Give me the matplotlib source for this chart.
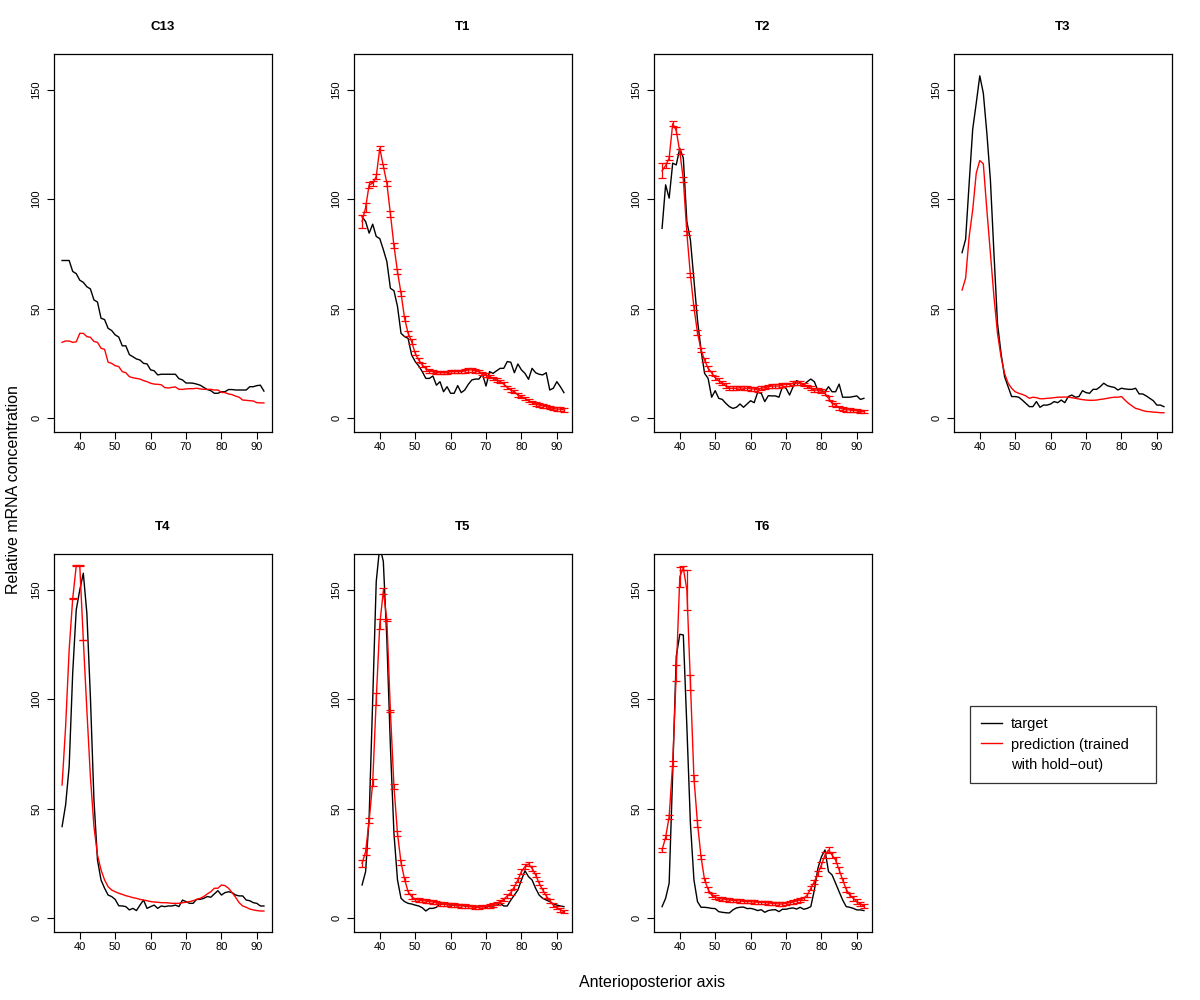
import numpy as np
import matplotlib
matplotlib.use("Agg")
import matplotlib.pyplot as plt
from matplotlib.lines import Line2D

plt.rcParams['font.family'] = ['Liberation Sans', 'DejaVu Sans']

# positions along the anterioposterior axis
x = list(range(35, 93))

panel_names = ["C13", "T1", "T2", "T3", "T4", "T5", "T6"]

c13_target = [72, 72, 72, 67, 66, 63, 62, 60, 59, 54,
              53, 45.6, 45, 41, 40, 38, 37, 33, 33, 29,
              28, 27, 26.5, 25, 24.7, 22, 21.6, 19.7, 20, 20,
              20, 20, 20, 18, 17.4, 16, 16, 15.9, 15.5, 15,
              14, 13, 12.5, 11.3, 11.3, 12, 12, 13, 13, 12.8,
              12.8, 12.8, 12.8, 14.3, 14.3, 14.8, 15, 12.3]
c13_pred = [34.6, 35.2, 35.2, 34.6, 34.8, 38.7, 38.7, 37.2, 36.9, 35,
            34.6, 31.9, 31.4, 25.5, 25, 23.9, 23.5, 21.2, 20.7, 18.9,
            18.4, 18.1, 17.8, 17.1, 16.6, 15.9, 15.5, 15.4, 15.2, 13.9,
            13.7, 14, 14.2, 13.1, 13.1, 13.3, 13.4, 13.4, 13.6, 13.3,
            13.1, 13.1, 13.1, 12.8, 12.8, 11.7, 11.6, 11, 10.7, 10,
            9.5, 8.2, 8.1, 7.9, 7.8, 7, 6.9, 6.9]

t1_target = [92, 89.8, 84.5, 88.6, 83, 82, 77, 71.5, 59.3, 58.2,
             51, 38.7, 37.2, 36.4, 28.8, 25.8, 23.8, 21.2, 18.1, 18.1,
             19.2, 15, 16.6, 12, 14.3, 11.3, 11.3, 14.8, 11.6, 12.8,
             15.4, 17.4, 17.8, 17.8, 20, 14.6, 21.2, 20.4, 21.6, 22.7,
             22.7, 25.8, 25.5, 20.7, 24.7, 22, 20.4, 17.7, 22.7, 20.7,
             20, 19.7, 20.7, 12.8, 13.6, 16.6, 14.3, 11.6]
t1_pred = [89.8, 96.2, 106.6, 107.3, 110.4, 123.3, 115.2, 107.3, 93.3, 78.8,
           66.9, 57, 45.6, 38.7, 34.9, 29.6, 26.5, 24.2, 22.7, 21.5,
           21.2, 20.7, 20.7, 20.7, 20.7, 21.2, 21.2, 21.2, 21.2, 21.5,
           22, 22, 21.5, 21.2, 20.4, 19.7, 18.9, 18.1, 17.4, 16.6,
           15.5, 14, 12.8, 12, 10.5, 9.8, 9, 7.9, 7, 6.4,
           5.9, 5.5, 5.2, 4.7, 4.4, 4.1, 4, 3.7]
t1_err = [3, 2, 1.5, 1.2, 1, 1, 1, 1.2, 1.2, 1.2,
          1.2, 1.2, 1.2, 1, 1, 1, 1, 1, 1, 1,
          0.8, 0.8, 0.8, 0.8, 0.8, 0.8, 0.8, 0.8, 0.8, 0.8,
          0.8, 0.8, 0.8, 0.8, 0.8, 0.8, 0.8, 0.8, 0.8, 0.8,
          0.8, 0.8, 0.8, 0.8, 0.8, 0.8, 0.8, 0.8, 0.8, 0.8,
          0.8, 0.8, 0.8, 0.8, 0.8, 0.8, 0.8, 0.8]

t2_target = [86.7, 106.6, 100.5, 116.5, 115.7, 123.3, 118.8, 89.8, 81.4, 63.1,
             44.8, 31.1, 20.4, 18.1, 9.5, 12.5, 9, 8.5, 6.7, 5.2,
             4.4, 4.9, 6.4, 4.9, 6.4, 7.9, 7, 11.7, 11.3, 7.5,
             10.2, 10.1, 10.1, 9.5, 14.3, 13.6, 10.5, 14.3, 17.1, 16.2,
             15.1, 16.6, 17.8, 16.6, 12.5, 12.5, 12, 14.3, 12, 12,
             15.5, 9.5, 9.5, 9.5, 9.8, 10.1, 8.5, 9]
t2_pred = [113, 115.4, 118.8, 134.5, 131.4, 121.8, 109.1, 84.5, 65.4, 50.5,
           39, 31.1, 26.5, 22.7, 20.7, 18.4, 17.1, 15.9, 14.8, 13.6,
           13.6, 13.6, 13.9, 13.6, 13.6, 13.3, 13.3, 12.8, 13.6, 13.9,
           14.3, 14.6, 14.6, 14.6, 15.1, 15.4, 15.4, 15.9, 15.9, 15.9,
           15.4, 14.3, 13.6, 12.8, 12.8, 12.3, 11.3, 9, 6.7, 5.9,
           4.7, 4.1, 3.7, 3.7, 3.4, 3.4, 2.9, 2.9]
t2_err = [3.4, 1.2, 1, 1.2, 1.7, 1, 1, 1, 1, 1,
          1, 1, 1, 1, 1, 1, 1, 1, 1, 1,
          0.8, 0.8, 0.8, 0.8, 0.8, 0.8, 0.8, 0.8, 0.8, 0.8,
          0.8, 0.8, 0.8, 0.8, 0.8, 0.8, 0.8, 0.8, 0.8, 0.8,
          0.8, 0.8, 0.8, 0.8, 1, 1, 1, 1, 1, 1,
          1, 0.8, 0.8, 0.8, 0.8, 0.8, 0.8, 0.8]

t3_target = [75.6, 81.7, 107.3, 132, 143.9, 156.4, 148.5, 130.2, 108.8, 75.3,
             43.3, 29.6, 18.9, 14.3, 9.8, 9.8, 9.5, 8.2, 6.7, 5.2,
             5.2, 7.5, 4.9, 5.9, 5.9, 6.4, 7.5, 7, 8.2, 7,
             9.8, 10.5, 9.5, 9.8, 12.5, 11.6, 11.3, 13.1, 13.1, 14.3,
             15.9, 14.8, 14.3, 14, 12.8, 13.6, 13.3, 13.1, 13.1, 13.6,
             11, 11, 10.1, 9, 7.9, 5.9, 5.9, 5.2]
t3_pred = [58.5, 63.9, 82.9, 95.1, 111.9, 117.7, 116.2, 95.1, 75.3, 55.5,
           38.7, 28, 20.4, 15.9, 13.6, 12, 11.3, 10.8, 10.1, 9,
           9.5, 9.3, 8.8, 8.8, 9, 9.1, 9.3, 9.5, 9.5, 9.6,
           9.5, 9.3, 9, 8.7, 8.4, 8.2, 8.1, 8.1, 8.2, 8.5,
           8.7, 9, 9.3, 9.5, 9.5, 9.8, 8.2, 6.7, 5.5, 4.4,
           4, 3.4, 3, 2.9, 2.7, 2.6, 2.4, 2.4]

t4_target = [41.8, 51.7, 69.2, 112, 140.9, 150, 157.6, 139.3, 101, 54,
             26.5, 17.4, 13.6, 10.5, 9.8, 8.5, 5.6, 5.5, 5.2, 3.7,
             4.4, 3.4, 5.9, 8.2, 4.4, 5.2, 5.9, 4.4, 5.5, 5.2,
             5.5, 5.5, 5.9, 5.2, 8.2, 7.5, 6.7, 6.7, 8.5, 8.5,
             9, 9.8, 9.5, 11, 12.5, 10.5, 11.6, 12, 11.6, 10.5,
             10.1, 10.1, 8.2, 7.9, 7, 6.7, 5.5, 5.5]
t4_pred = [60.8, 87.5, 122.6, 146, 161, 161, 127.1, 95.1, 64.6, 41.8,
           28.8, 22, 17.4, 14.3, 12.8, 12, 11.3, 10.8, 10.2, 9.8,
           9.3, 9, 8.5, 8.2, 7.9, 7.5, 7.3, 7.2, 7, 7,
           6.9, 6.7, 6.7, 6.7, 7, 7.2, 7.5, 7.9, 8.5, 9,
           9.8, 11, 12, 13.6, 13.6, 15.1, 14.8, 13.6, 11.6, 9.5,
           7, 5.5, 4.9, 4.1, 3.7, 3.4, 3.2, 3.2]
t4_err = [0, 0, 0, 0.2, 0.2, 0.2, 0.2, 0, 0, 0,
          0, 0, 0, 0, 0, 0, 0, 0, 0, 0,
          0, 0, 0, 0, 0, 0, 0, 0, 0, 0,
          0, 0, 0, 0, 0, 0, 0, 0, 0, 0,
          0, 0, 0, 0, 0, 0, 0, 0, 0, 0,
          0, 0, 0, 0, 0, 0, 0, 0]

t5_target = [15.1, 21.2, 46.3, 99.7, 153.8, 170, 163, 127.1, 78.4, 38.7,
             17.4, 9, 7.5, 6.7, 6.4, 5.9, 5.5, 4.7, 3.2, 4.4,
             4.4, 4.9, 6.4, 6.3, 6.3, 5.9, 5.9, 5.5, 5.9, 5.5,
             5.9, 5.2, 5.2, 5.5, 5.6, 4.7, 5.5, 5.5, 5.9, 6.7,
             5.5, 5.5, 8.2, 10.5, 12.8, 17.4, 21.6, 18.9, 17.4, 13.6,
             10.5, 9, 8.2, 7.5, 6.4, 5.9, 5.5, 5.2]
t5_pred = [25, 30.3, 44.5, 61.9, 100, 134.3, 149.5, 136.3, 94.6, 60.1,
           38.7, 25.3, 17.7, 12, 9.8, 8.5, 8.2, 7.9, 7.8, 7.5,
           7.3, 7, 6.4, 6.3, 6.1, 5.9, 5.9, 5.8, 5.6, 5.5,
           5.2, 5.2, 4.9, 4.9, 5.2, 5.2, 5.5, 5.9, 6.7, 7.5,
           8.5, 10.1, 11.6, 14.3, 17.4, 21.2, 23.5, 24.7, 22.7, 19.7,
           15.9, 12.8, 10.1, 7.9, 5.9, 4.7, 3.7, 2.9]
t5_err = [1.5, 1.5, 1, 1.5, 2.7, 2.2, 1.5, 0.5, 0.5, 1,
          1, 1, 1, 1, 1, 0.8, 0.8, 0.8, 0.8, 0.8,
          0.8, 0.8, 0.8, 0.8, 0.8, 0.8, 0.8, 0.8, 0.8, 0.8,
          0.8, 0.8, 0.8, 0.8, 0.8, 0.8, 0.8, 0.8, 0.8, 0.8,
          0.8, 1, 1, 1, 1, 1, 1, 1, 1, 1,
          1, 1, 1, 1, 0.8, 0.8, 0.8, 0.8]

t6_target = [5.2, 9, 15.9, 66.2, 119.5, 129.7, 129.4, 87.5, 43.3, 17.4,
             7.5, 4.9, 4.9, 4.7, 4.4, 4.3, 2.9, 2.6, 2.4, 2.3,
             3.7, 4.6, 4.9, 5, 4.3, 4.4, 4, 3.4, 3.8, 2.6,
             3.4, 3.7, 3.8, 2.9, 4, 4, 4.4, 4.6, 4.1, 4.9,
             4, 4.4, 5.2, 12.8, 22.7, 28, 31.1, 21.2, 19.7, 15.9,
             12, 8.2, 5.2, 4.9, 4.4, 3.7, 3.7, 3.4]
t6_pred = [31.1, 36.9, 46.3, 70.7, 112, 156, 160, 150, 107.6, 64,
           43.3, 28, 17.4, 13.1, 10.5, 9.5, 9, 8.7, 8.5, 8.2,
           8.1, 7.9, 7.8, 7.6, 7.5, 7.5, 7.3, 7.2, 7.2, 7,
           6.9, 6.7, 6.6, 6.4, 6.4, 6.7, 7, 7.3, 7.8, 8.2,
           9, 10.5, 13.6, 16.6, 20.4, 24.2, 28.8, 31.1, 28.8, 26.5,
           22, 17.4, 13.1, 10.5, 9, 7.5, 6.4, 5.5]
t6_err = [1, 1, 1, 1, 3.5, 4.5, 1, 9, 3.4, 1.5,
          1.5, 1, 1, 1, 1, 0.8, 0.8, 0.8, 0.8, 0.8,
          0.8, 0.8, 0.8, 0.8, 0.8, 0.8, 0.8, 0.8, 0.8, 0.8,
          0.8, 0.8, 0.8, 0.8, 0.8, 0.8, 0.8, 0.8, 0.8, 0.8,
          0.8, 1, 1, 1, 1, 1.2, 1.2, 1.2, 1.2, 1.2,
          1.2, 1, 1, 1, 1, 1, 0.8, 0.8]

targets = [c13_target, t1_target, t2_target, t3_target, t4_target, t5_target, t6_target]
preds = [c13_pred, t1_pred, t2_pred, t3_pred, t4_pred, t5_pred, t6_pred]
errs = [None, t1_err, t2_err, None, t4_err, t5_err, t6_err]

fig = plt.figure(figsize=(12, 10), dpi=100)

# axes boxes in pixels: left, top, width, height
lefts = [54, 354, 654, 954, 54, 354, 654]
tops = [54, 54, 54, 54, 554, 554, 554]
w, h = 218, 378

for i, name in enumerate(panel_names):
    ax = fig.add_axes([lefts[i] / 1200, 1 - (tops[i] + h) / 1000, w / 1200, h / 1000])
    ax.plot(x, targets[i], color='black', lw=1.0)
    ax.plot(x, preds[i], color='red', lw=1.0)
    if errs[i] is not None:
        e = np.array(errs[i])
        m = e > 0
        ax.errorbar(np.array(x)[m], np.array(preds[i])[m], yerr=e[m], fmt='none',
                    ecolor='red', elinewidth=0.9, capsize=3, capthick=0.9)
    ax.set_xlim(32.72, 94.28)
    ax.set_ylim(-6.4, 166.4)
    ax.set_xticks([40, 50, 60, 70, 80, 90])
    ax.set_yticks([0, 50, 100, 150])
    ax.tick_params(axis='both', labelsize=8, length=5, width=0.8, color='black')
    ax.tick_params(axis='x', pad=2)
    ax.tick_params(axis='y', pad=4)
    for lab in ax.get_yticklabels():
        lab.set_rotation(90)
        lab.set_va('center')
    for s in ax.spines.values():
        s.set_linewidth(0.9)
    ax.set_title(name, fontsize=9.5, fontweight='bold', pad=17)

fig.text(0.543, 0.018, "Anterioposterior axis", ha='center', va='center', fontsize=11.5)
fig.text(0.011, 0.51, "Relative mRNA concentration", ha='center', va='center',
         rotation=90, fontsize=11.5)

# R style legend: second label wraps onto a line with no key
handles = [Line2D([], [], color='black', lw=1.0),
           Line2D([], [], color='red', lw=1.0),
           Line2D([], [], color='none', lw=0)]
leg = fig.legend(handles, ["target", "prediction (trained    ", "with hold\u2212out)"],
                 loc='upper left', bbox_to_anchor=(0.808, 0.294), fontsize=10.5,
                 frameon=True, fancybox=False, edgecolor='black', borderaxespad=0,
                 handlelength=1.5, handletextpad=0.6, borderpad=0.75,
                 labelspacing=0.45)
leg.get_frame().set_linewidth(0.9)

fig.savefig("out.png", dpi=100)
